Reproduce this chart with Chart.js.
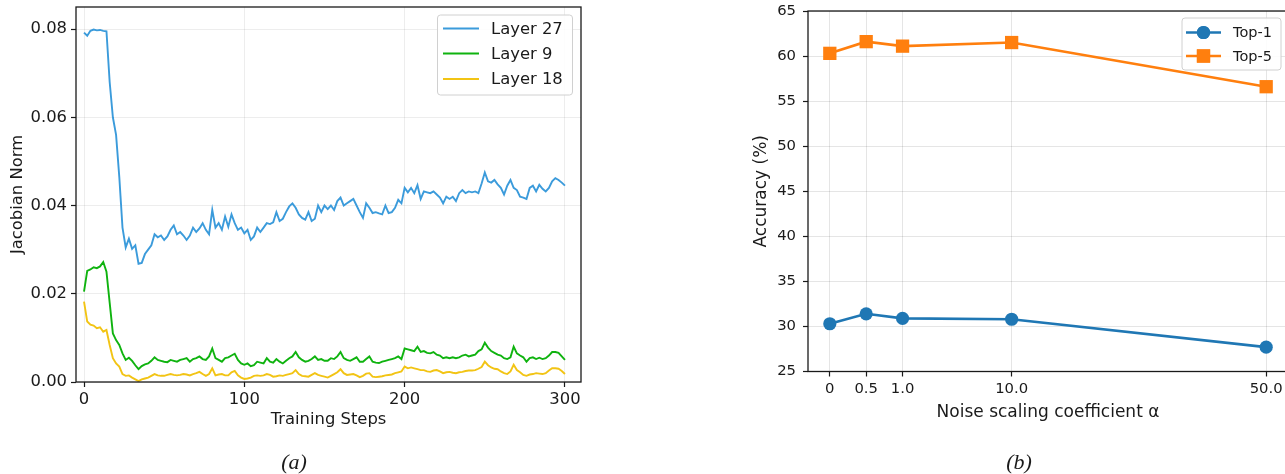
<!DOCTYPE html>
<html>
<head>
<meta charset="utf-8">
<script src="https://cdn.jsdelivr.net/npm/chart.js@4.4.0/dist/chart.umd.min.js"></script>
<style>
  html, body { margin: 0; padding: 0; background: #fff; overflow: hidden; width: 1285px; height: 474px; }
  canvas { position: absolute; top: 0; }
  #jacobian { left: 0; }
  #accuracy { left: 700px; }
</style>
</head>
<body>
<canvas id="jacobian" width="600" height="474"></canvas>
<canvas id="accuracy" width="600" height="474"></canvas>
<script>
// ---- (a) Jacobian norm per layer, sampled every 2 training steps ----
const STEP_INTERVAL = 2;
const layer27 = [
  0.0792, 0.0785, 0.0796, 0.0799, 0.0797, 0.0798, 0.0796, 0.0795, 0.0680, 0.0600,
  0.0560, 0.0465, 0.0350, 0.0305, 0.0325, 0.0302, 0.0310, 0.0268, 0.0270, 0.0290,
  0.0300, 0.0310, 0.0335, 0.0328, 0.0332, 0.0322, 0.0330, 0.0345, 0.0355, 0.0335,
  0.0340, 0.0332, 0.0322, 0.0332, 0.0350, 0.0340, 0.0348, 0.0360, 0.0345, 0.0335,
  0.0390, 0.0350, 0.0360, 0.0345, 0.0375, 0.0352, 0.0380, 0.0360, 0.0345, 0.0350,
  0.0337, 0.0345, 0.0322, 0.0330, 0.0350, 0.0340, 0.0350, 0.0360, 0.0358, 0.0362,
  0.0385, 0.0365, 0.0370, 0.0385, 0.0398, 0.0405, 0.0395, 0.0380, 0.0372, 0.0368,
  0.0385, 0.0365, 0.0370, 0.0400, 0.0385, 0.0400, 0.0392, 0.0400, 0.0390, 0.0410,
  0.0418, 0.0400, 0.0405, 0.0410, 0.0415, 0.0400, 0.0385, 0.0372, 0.0405, 0.0395,
  0.0383, 0.0385, 0.0382, 0.0380, 0.0400, 0.0383, 0.0385, 0.0395, 0.0413, 0.0405,
  0.0440, 0.0430, 0.0440, 0.0428, 0.0446, 0.0415, 0.0432, 0.0430, 0.0428, 0.0432,
  0.0425, 0.0418, 0.0405, 0.0420, 0.0415, 0.0420, 0.0410, 0.0428, 0.0435, 0.0428,
  0.0432, 0.0430, 0.0432, 0.0428, 0.0450, 0.0475, 0.0455, 0.0452, 0.0458, 0.0448,
  0.0440, 0.0425, 0.0445, 0.0458, 0.0440, 0.0435, 0.0420, 0.0418, 0.0415, 0.0440,
  0.0445, 0.0432, 0.0447, 0.0438, 0.0432, 0.0440, 0.0455, 0.0462, 0.0458, 0.0452,
  0.0445
];
const layer9 = [
  0.0205, 0.0252, 0.0255, 0.0260, 0.0258, 0.0262, 0.0272, 0.0250, 0.0180, 0.0110,
  0.0095, 0.0084, 0.0065, 0.0050, 0.0055, 0.0048, 0.0038, 0.0029, 0.0036, 0.0040,
  0.0042, 0.0048, 0.0056, 0.0050, 0.0048, 0.0046, 0.0045, 0.0050, 0.0048, 0.0046,
  0.0050, 0.0052, 0.0054, 0.0046, 0.0052, 0.0054, 0.0058, 0.0052, 0.0050, 0.0058,
  0.0076, 0.0054, 0.0050, 0.0046, 0.0054, 0.0056, 0.0060, 0.0064, 0.0050, 0.0042,
  0.0039, 0.0042, 0.0036, 0.0038, 0.0046, 0.0044, 0.0042, 0.0054, 0.0046, 0.0044,
  0.0052, 0.0046, 0.0042, 0.0048, 0.0054, 0.0058, 0.0068, 0.0056, 0.0050, 0.0046,
  0.0048, 0.0052, 0.0058, 0.0050, 0.0052, 0.0048, 0.0048, 0.0054, 0.0052, 0.0058,
  0.0068, 0.0054, 0.0050, 0.0048, 0.0052, 0.0056, 0.0046, 0.0046, 0.0052, 0.0058,
  0.0046, 0.0044, 0.0043, 0.0046, 0.0048, 0.0050, 0.0052, 0.0054, 0.0058, 0.0052,
  0.0076, 0.0074, 0.0072, 0.0070, 0.0080, 0.0068, 0.0070, 0.0066, 0.0065, 0.0068,
  0.0062, 0.0060, 0.0054, 0.0056, 0.0054, 0.0056, 0.0054, 0.0056, 0.0060, 0.0062,
  0.0058, 0.0060, 0.0062, 0.0070, 0.0074, 0.0089, 0.0078, 0.0070, 0.0066, 0.0062,
  0.0060, 0.0054, 0.0052, 0.0056, 0.0080, 0.0065, 0.0060, 0.0056, 0.0046, 0.0054,
  0.0056, 0.0052, 0.0055, 0.0052, 0.0054, 0.0060, 0.0068, 0.0068, 0.0066, 0.0058,
  0.0050
];
const layer18 = [
  0.0182, 0.0137, 0.0130, 0.0128, 0.0122, 0.0124, 0.0114, 0.0118, 0.0084, 0.0054,
  0.0042, 0.0035, 0.0018, 0.0014, 0.0015, 0.0010, 0.0006, 0.0002, 0.0006, 0.0008,
  0.0010, 0.0014, 0.0018, 0.0015, 0.0014, 0.0014, 0.0016, 0.0018, 0.0016, 0.0015,
  0.0016, 0.0018, 0.0017, 0.0015, 0.0018, 0.0020, 0.0023, 0.0018, 0.0014, 0.0018,
  0.0031, 0.0015, 0.0017, 0.0018, 0.0015, 0.0015, 0.0022, 0.0025, 0.0015, 0.0010,
  0.0007, 0.0008, 0.0010, 0.0014, 0.0015, 0.0014, 0.0015, 0.0018, 0.0016, 0.0012,
  0.0013, 0.0015, 0.0014, 0.0016, 0.0018, 0.0020, 0.0027, 0.0018, 0.0014, 0.0013,
  0.0012, 0.0016, 0.0020, 0.0016, 0.0014, 0.0012, 0.0010, 0.0014, 0.0018, 0.0022,
  0.0029, 0.0020, 0.0016, 0.0017, 0.0018, 0.0015, 0.0011, 0.0014, 0.0019, 0.0020,
  0.0012, 0.0011, 0.0012, 0.0013, 0.0015, 0.0016, 0.0017, 0.0020, 0.0022, 0.0024,
  0.0035, 0.0031, 0.0033, 0.0031, 0.0029, 0.0027, 0.0027, 0.0024, 0.0023, 0.0026,
  0.0027, 0.0024, 0.0020, 0.0022, 0.0023, 0.0021, 0.0020, 0.0022, 0.0023, 0.0025,
  0.0026, 0.0026, 0.0027, 0.0030, 0.0034, 0.0046, 0.0038, 0.0033, 0.0030, 0.0029,
  0.0024, 0.0020, 0.0018, 0.0024, 0.0039, 0.0027, 0.0022, 0.0016, 0.0014, 0.0017,
  0.0018, 0.0020, 0.0019, 0.0018, 0.0020, 0.0026, 0.0031, 0.0031, 0.0030, 0.0025,
  0.0018
];
const stepTicks = [0, 100, 200, 300];
const normTicks = [0, 0.02, 0.04, 0.06, 0.08];

// ---- (b) accuracy vs. noise scaling coefficient ----
const alphaLabels = ['0', '0.5', '1.0', '10.0', '50.0'];
const alphaSlots = [0, 1, 2, 5, 12];   // x-slot of each coefficient on the axis
const top1 = [30.3, 31.4, 30.9, 30.8, 27.7];
const top5 = [60.3, 61.6, 61.1, 61.5, 56.6];
const accTicks = [25, 30, 35, 40, 45, 50, 55, 60, 65];

Chart.defaults.font.family = "'DejaVu Sans', sans-serif";
Chart.defaults.color = '#1a1a1a';

const INK = '#1a1a1a';

// Axis frame drawn around the plot area (all four sides)
const framePlugin = {
  id: 'frame',
  afterDraw(chart) {
    const { ctx, chartArea: a } = chart;
    ctx.save();
    ctx.strokeStyle = INK;
    ctx.lineWidth = 1.3;
    ctx.strokeRect(a.left, a.top, a.right - a.left, a.bottom - a.top);
    ctx.restore();
  }
};

// Boxed legend built from the dataset labels and styles
const boxLegendPlugin = {
  id: 'boxLegend',
  afterDraw(chart, args, o) {
    if (!o || !o.box) return;
    const { ctx } = chart;
    const b = o.box;
    ctx.save();
    ctx.beginPath();
    ctx.roundRect(b.x, b.y, b.w, b.h, 3);
    ctx.fillStyle = 'rgba(255,255,255,0.85)';
    ctx.fill();
    ctx.strokeStyle = '#d0d0d0';
    ctx.lineWidth = 1;
    ctx.stroke();
    ctx.font = o.font;
    ctx.textBaseline = 'middle';
    ctx.textAlign = 'left';
    chart.data.datasets.forEach((ds, i) => {
      const y = o.rows[i];
      ctx.strokeStyle = ds.borderColor;
      ctx.lineWidth = ds.borderWidth;
      ctx.beginPath();
      ctx.moveTo(o.sample[0], y);
      ctx.lineTo(o.sample[1], y);
      ctx.stroke();
      if (ds.pointRadius > 0) {
        ctx.fillStyle = ds.pointBackgroundColor;
        Chart.helpers.drawPoint(ctx, {
          pointStyle: ds.pointStyle, radius: ds.pointRadius, rotation: 0, borderWidth: 0
        }, (o.sample[0] + o.sample[1]) / 2, y);
        ctx.fill();
      }
      ctx.fillStyle = INK;
      ctx.fillText(ds.label, o.textX, y + 1);
    });
    ctx.restore();
  }
};

// Panel caption under each plot
const captionPlugin = {
  id: 'caption',
  afterDraw(chart, args, o) {
    if (!o || !o.text) return;
    const { ctx } = chart;
    ctx.save();
    ctx.font = "italic 22px 'Liberation Serif', serif";
    ctx.fillStyle = INK;
    ctx.textAlign = 'center';
    ctx.textBaseline = 'middle';
    ctx.fillText(o.text, o.x, o.y);
    ctx.restore();
  }
};

function axisGrid(color, len) {
  return { color: color, lineWidth: 1, drawTicks: true, tickLength: len, tickColor: INK, tickWidth: 1.2 };
}

// fixed axis box size; label overhang is already covered by the layout padding
function fixBox(size) {
  return s => {
    if (s.isHorizontal()) s.height = size; else s.width = size;
    s.paddingTop = 0; s.paddingBottom = 0; s.paddingLeft = 0; s.paddingRight = 0;
  };
}

const steps = layer27.map((_, i) => i * STEP_INTERVAL);
const toPoints = arr => arr.map((v, i) => ({ x: steps[i], y: v }));

new Chart(document.getElementById('jacobian'), {
  type: 'line',
  data: {
    datasets: [
      { label: 'Layer 27', data: toPoints(layer27), borderColor: '#3b9bdb', borderWidth: 1.9, pointRadius: 0, tension: 0 },
      { label: 'Layer 9', data: toPoints(layer9), borderColor: '#0fb30f', borderWidth: 1.9, pointRadius: 0, tension: 0 },
      { label: 'Layer 18', data: toPoints(layer18), borderColor: '#f2c414', borderWidth: 1.9, pointRadius: 0, tension: 0 }
    ]
  },
  options: {
    responsive: false,
    animation: false,
    layout: { padding: { left: 4, top: 7, right: 19, bottom: 40 } },
    plugins: {
      legend: { display: false },
      tooltip: { enabled: false },
      boxLegend: {
        box: { x: 437.5, y: 15, w: 135, h: 80 },
        rows: [28.5, 53.5, 79],
        sample: [443, 479],
        textX: 491,
        font: "16.4px 'DejaVu Sans'"
      },
      caption: { text: '(a)', x: 294, y: 463 }
    },
    scales: {
      x: {
        type: 'linear', min: -5, max: 310,
        afterBuildTicks: s => { s.ticks = stepTicks.map(v => ({ value: v })); },
        afterFit: fixBox(52),
        grid: axisGrid('rgba(0,0,0,0.07)', 5),
        border: { display: false },
        ticks: { font: { size: 16.4 }, color: INK, padding: 3, maxRotation: 0, autoSkip: false },
        title: { display: true, text: 'Training Steps', font: { size: 16.4 }, color: INK, padding: { top: 4, bottom: 4 } }
      },
      y: {
        type: 'linear', min: 0, max: 0.085,
        afterBuildTicks: s => { s.ticks = normTicks.map(v => ({ value: v })); },
        afterFit: fixBox(72),
        grid: axisGrid('rgba(0,0,0,0.07)', 5),
        border: { display: false },
        ticks: { font: { size: 16.4 }, color: INK, padding: 4, callback: v => v.toFixed(2) },
        title: { display: true, text: 'Jacobian Norm', font: { size: 16.4 }, color: INK, padding: { top: 4, bottom: 4 } }
      }
    }
  },
  plugins: [framePlugin, boxLegendPlugin, captionPlugin]
});

const slotPoints = arr => arr.map((v, i) => ({ x: alphaSlots[i], y: v }));

new Chart(document.getElementById('accuracy'), {
  type: 'line',
  data: {
    datasets: [
      {
        label: 'Top-1', data: slotPoints(top1), borderColor: '#1f77b4', borderWidth: 2.6,
        pointStyle: 'circle', pointRadius: 6.6, pointBackgroundColor: '#1f77b4', pointBorderWidth: 0, tension: 0
      },
      {
        label: 'Top-5', data: slotPoints(top5), borderColor: '#ff7f0e', borderWidth: 2.6,
        pointStyle: 'rect', pointRadius: 9.4, pointBackgroundColor: '#ff7f0e', pointBorderWidth: 0, tension: 0
      }
    ]
  },
  options: {
    responsive: false,
    animation: false,
    clip: false,
    layout: { padding: { left: 47.5, top: 11, right: 12, bottom: 47 } },
    plugins: {
      legend: { display: false },
      tooltip: { enabled: false },
      boxLegend: {
        box: { x: 482, y: 18, w: 99, h: 52 },
        rows: [32.5, 56],
        sample: [486, 521],
        textX: 533,
        font: "14.5px 'DejaVu Sans'"
      },
      caption: { text: '(b)', x: 319, y: 463 }
    },
    scales: {
      x: {
        type: 'linear', min: -0.6, max: 12.6,
        afterBuildTicks: s => { s.ticks = alphaSlots.map(v => ({ value: v })); },
        afterFit: fixBox(55.5),
        grid: axisGrid('rgba(0,0,0,0.1)', 5),
        border: { display: false },
        ticks: {
          font: { size: 14.8 }, color: INK, padding: 4, maxRotation: 0, autoSkip: false,
          callback: v => alphaLabels[alphaSlots.indexOf(v)]
        },
        title: { display: true, text: 'Noise scaling coefficient α', font: { size: 17 }, color: INK, padding: { top: 4, bottom: 4 } }
      },
      y: {
        type: 'linear', min: 25, max: 65,
        afterBuildTicks: s => { s.ticks = accTicks.map(v => ({ value: v })); },
        afterFit: fixBox(60.5),
        grid: axisGrid('rgba(0,0,0,0.1)', 5),
        border: { display: false },
        ticks: { font: { size: 14.8 }, color: INK, padding: 7 },
        title: { display: true, text: 'Accuracy (%)', font: { size: 17 }, color: INK, padding: { top: 4, bottom: 4 } }
      }
    }
  },
  plugins: [framePlugin, boxLegendPlugin, captionPlugin]
});
</script>
</body>
</html>
